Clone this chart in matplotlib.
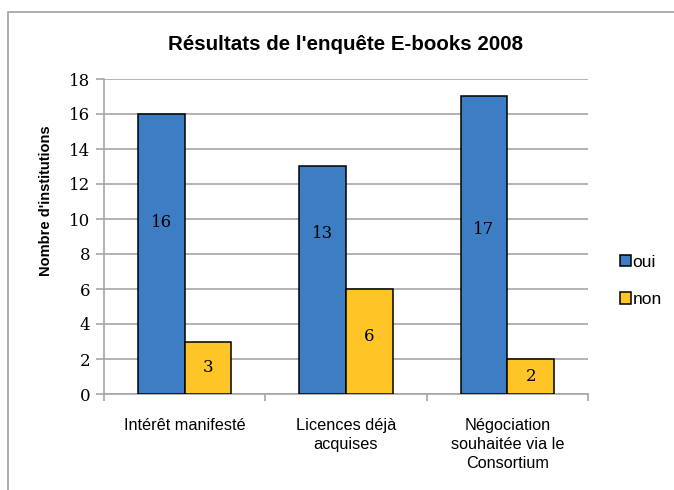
import matplotlib.pyplot as plt
from matplotlib.patches import Rectangle
import numpy as np

# data
categories = ["Intérêt manifesté", "Licences déjà\nacquises", "Négociation\nsouhaitée via le\nConsortium"]
oui = [16, 13, 17]
non = [3, 6, 2]
# height where the value labels sit (as drawn in the reference)
oui_label_y = [9.8, 9.2, 9.4]
non_label_y = [1.5, 3.3, 1.0]

blue = '#3C7DC4'
yellow = '#FFC526'
grid_col = '#A6A6A6'

fig = plt.figure(figsize=(6.74, 4.90), dpi=100)
ax = fig.add_axes([104/674, 1 - 394/490, (588 - 104)/674, (394 - 79)/490])

# outer chart frame
fig.patches.append(Rectangle((8/674, -0.1), 1.2, 1 - 12/490 + 0.1, transform=fig.transFigure,
                             fill=False, edgecolor='#A0A0A0', linewidth=1.2))

x = np.arange(len(categories))
w = 0.29
ax.bar(x - w/2, oui, w, color=blue, edgecolor='black', linewidth=1.1, label='oui', zorder=3)
ax.bar(x + w/2, non, w, color=yellow, edgecolor='black', linewidth=1.1, label='non', zorder=3)

for i in range(len(x)):
    ax.text(x[i] - w/2, oui_label_y[i], str(oui[i]), ha='center', va='center',
            fontsize=12, family='DejaVu Serif', zorder=4)
    ax.text(x[i] + w/2, non_label_y[i], str(non[i]), ha='center', va='center',
            fontsize=12, family='DejaVu Serif', zorder=4)

ax.set_xlim(-0.5, 2.5)
ax.set_ylim(0, 18)
ax.set_yticks(range(0, 19, 2))
ax.set_yticklabels([str(v) for v in range(0, 19, 2)], family='DejaVu Serif', fontsize=12)
ax.yaxis.grid(True, color=grid_col, linewidth=1.2, zorder=0)
ax.set_axisbelow(True)

ax.set_xticks(x)
ax.set_xticklabels(categories, family='Liberation Sans', fontsize=11.7, linespacing=1.35, va='top')
ax.set_xticks([-0.5, 0.5, 1.5, 2.5], minor=True)
ax.tick_params(axis='x', which='major', length=0, pad=17)
ax.tick_params(axis='x', which='minor', length=5, color=grid_col, width=1.2, direction='out')
ax.tick_params(axis='y', length=6, color=grid_col, width=1.2, pad=4)

for s in ['top', 'right']:
    ax.spines[s].set_visible(False)
for s in ['left', 'bottom']:
    ax.spines[s].set_color(grid_col)
    ax.spines[s].set_linewidth(1.2)

ax.set_ylabel("Nombre d'institutions", family='Liberation Sans', fontweight='bold', fontsize=10.5)
ax.yaxis.set_label_coords(-0.105, (394 - 201) / (394 - 79))
fig.text(345 / 674, 1 - 45/490, "Résultats de l'enquête E-books 2008",
         ha='center', va='center', family='Liberation Sans', fontweight='bold', fontsize=14.8)

leg = ax.legend(loc='center left', bbox_to_anchor=(604/674, 1 - 281/490),
                bbox_transform=fig.transFigure, frameon=False,
                prop={'family': 'Liberation Sans', 'size': 12.5},
                handlelength=0.65, handleheight=0.65, handletextpad=0.1, labelspacing=1.3)

fig.savefig('out.png', dpi=100)
